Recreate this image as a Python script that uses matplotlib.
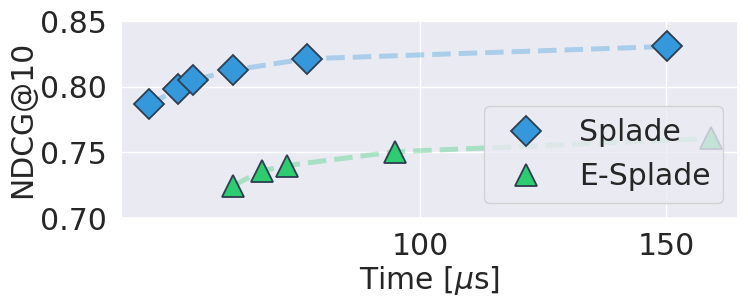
import matplotlib
matplotlib.use("Agg")
import matplotlib.pyplot as plt
import seaborn as sns

sns.set_theme(style="darkgrid")
plt.rcParams['font.family'] = ['DejaVu Sans']

splade_time = [44.9, 50.7, 53.8, 61.9, 76.9, 150.1]
splade_ndcg = [0.7866, 0.798, 0.8049, 0.8127, 0.8213, 0.8307]
esplade_time = [61.9, 67.9, 72.9, 94.9, 159.1]
esplade_ndcg = [0.7246, 0.736, 0.740, 0.7505, 0.7606]

blue = "#3498db"
green = "#2ecc71"
edge = "#2c3e50"
fs = 21.5

fig = plt.figure(figsize=(7.48, 3.02), dpi=100)
ax = fig.add_axes([0.1618, 0.278, 0.8248, 0.652])

ax.plot(splade_time, splade_ndcg, ls="--", lw=3.6, color=blue, alpha=0.35, zorder=2)
ax.plot(esplade_time, esplade_ndcg, ls="--", lw=3.6, color=green, alpha=0.35, zorder=2)
ax.plot(splade_time, splade_ndcg, ls="none", marker="D", ms=15.3, mfc=blue,
        mec=edge, mew=1.3, label="Splade", zorder=3)
ax.plot(esplade_time, esplade_ndcg, ls="none", marker="^", ms=15.6, mfc=green,
        mec=edge, mew=1.3, label="E-Splade", zorder=3)

ax.set_xlim(39.2, 164.6)
ax.set_ylim(0.70, 0.85)
ax.set_xticks([100, 150])
ax.set_yticks([0.70, 0.75, 0.80, 0.85])
ax.tick_params(labelsize=fs, pad=4)
ax.set_xlabel(r"Time [$\mu$s]", fontsize=fs, labelpad=2)
ax.set_ylabel("NDCG@10", fontsize=fs, labelpad=2)
ax.legend(loc="lower right", fontsize=fs)

fig.savefig("out.png", dpi=100)
